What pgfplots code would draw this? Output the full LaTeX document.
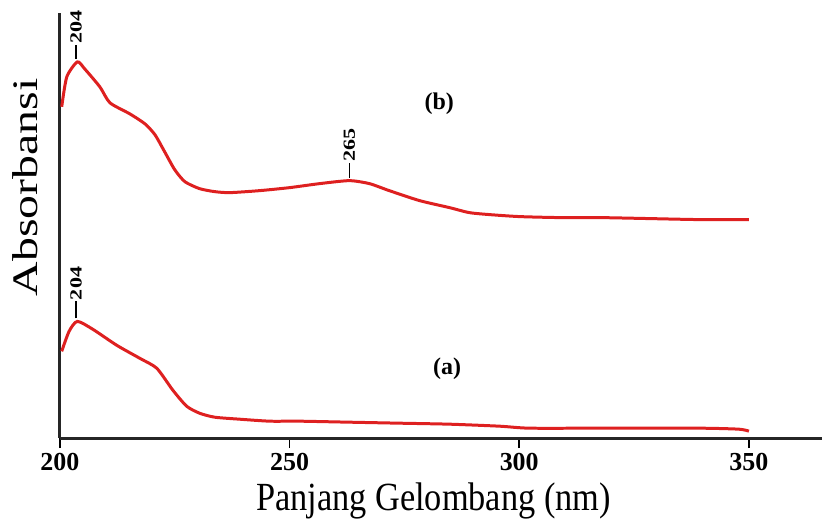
\documentclass[border=0pt]{standalone}
\usepackage{pgfplots}
\pgfplotsset{compat=1.18}
\usepackage{fontspec}
\setmainfont{Liberation Serif}
\definecolor{curvered}{RGB}{222,32,32}
\begin{document}
\begin{tikzpicture}
\begin{axis}[
  scale only axis,
  width=382pt, height=213pt,
  xmin=200, xmax=366, ymin=0, ymax=4.26,
  axis x line*=bottom, axis y line*=left,
  axis line style={line width=1.6pt, black!85, -},
  xtick={200,250,300,350}, ytick=\empty,
  tick style={black, line width=0.8pt},
  tick align=outside, major tick length=5pt,
  /pgf/number format/assume math mode=true,
  xticklabel style={font=\fontsize{13}{15}\selectfont\bfseries, yshift=1pt},
  xlabel={\scalebox{0.86}[1]{Panjang Gelombang (nm)}},
  xlabel style={font=\fontsize{20}{22}\selectfont, at={(axis description cs:0.49,0)}, anchor=base, inner sep=0pt, yshift=-36pt},
  ylabel={\scalebox{1.33}[1]{Absorbansi}},
  ylabel style={font=\fontsize{18}{20}\selectfont, at={(axis description cs:-0.046,0.59)}, anchor=center},
  clip=false,
]
% (b)
\addplot[curvered, line width=1.5pt, smooth, tension=0.4] coordinates {
(200.4,3.32) (201.5,3.62) (203.8,3.77) (205.4,3.70) (208.7,3.52) (210.9,3.36)
(215.2,3.25) (218.5,3.15) (220.7,3.04) (222.8,2.87) (225.0,2.69) (227.2,2.57)
(230.4,2.50) (233.7,2.47) (237.0,2.46) (243.5,2.48) (250.0,2.51) (256.5,2.55)
(263.0,2.58) (267.4,2.55) (271.7,2.48) (278.3,2.38) (284.8,2.31) (289.1,2.26)
(293.5,2.24) (300.0,2.22) (308.7,2.21) (317.4,2.21) (328.3,2.20) (339.1,2.19)
(350.0,2.19)
};
% (a)
\addplot[curvered, line width=1.5pt, smooth, tension=0.4] coordinates {
(200.4,0.87) (202.0,1.07) (203.8,1.17) (207.2,1.09) (212.4,0.93) (217.4,0.80)
(221.1,0.70) (224.6,0.48) (227.6,0.32) (230.4,0.25) (233.7,0.21) (239.1,0.19)
(245.7,0.17) (252.2,0.17) (263.0,0.16) (273.9,0.15) (284.8,0.14) (295.7,0.12)
(302.2,0.10) (317.4,0.10) (339.1,0.10) (347.8,0.09) (350.0,0.07)
};
% annotations
\draw[black, line width=0.7pt] (axis cs:203.5,3.80) -- (axis cs:203.5,3.94);
\node[rotate=90, anchor=west, inner sep=0pt, font=\fontsize{8.5}{9}\selectfont\bfseries] at (axis cs:203.5,3.95) {\scalebox{1.3}[1]{204}};
\draw[black, line width=0.7pt] (axis cs:263,2.61) -- (axis cs:263,2.76);
\node[rotate=90, anchor=west, inner sep=0pt, font=\fontsize{8.5}{9}\selectfont\bfseries] at (axis cs:263,2.77) {\scalebox{1.3}[1]{265}};
\draw[black, line width=0.7pt] (axis cs:203.5,1.20) -- (axis cs:203.5,1.37);
\node[rotate=90, anchor=west, inner sep=0pt, font=\fontsize{8.5}{9}\selectfont\bfseries] at (axis cs:203.5,1.38) {\scalebox{1.3}[1]{204}};
\node[font=\fontsize{12}{14}\selectfont\bfseries] at (axis cs:282.6,3.35) {(b)};
\node[font=\fontsize{12}{14}\selectfont\bfseries] at (axis cs:284.3,0.70) {(a)};
\path (axis cs:200,4.26) -- ++(0pt,6.5pt);
\path (axis cs:200,2) -- ++(-30pt,0pt);
\end{axis}
\end{tikzpicture}
\end{document}
